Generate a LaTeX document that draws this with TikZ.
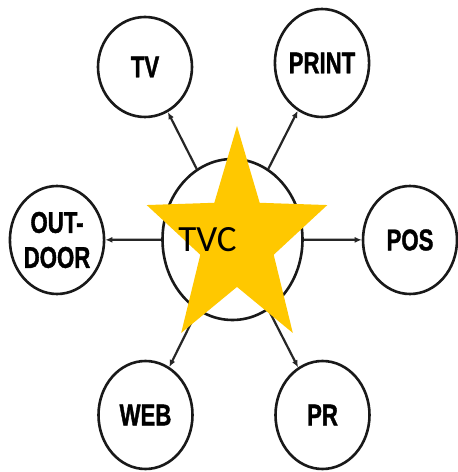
\documentclass[tikz,border=0pt]{standalone}
\usepackage{fontspec}
\setmainfont{Liberation Sans}
\newfontfamily\condbold[FakeStretch=0.74,FakeBold=1.2]{Liberation Sans Bold}
\newfontfamily\tvcfont{Carlito}
\usetikzlibrary{arrows.meta,shapes.geometric}
\begin{document}
\begin{tikzpicture}[x=1pt,y=1pt,
  media/.style={ellipse,draw=black!90,line width=2.6pt,inner sep=0pt,
    minimum width=94pt,minimum height=108pt,
    font=\condbold\fontsize{30}{35}\selectfont,align=center},
  link/.style={draw=black!85,line width=2.2pt,-{Latex[length=7pt,width=6pt]}}]
\useasboundingbox (0,0) rectangle (458,472);
\fill[white] (0,0) rectangle (458,472);
\node[ellipse,draw=black!90,line width=2.6pt,minimum width=140pt,minimum height=161pt] (hub) at (232.5,232.5) {};
\node[media,minimum height=100pt] (tv) at (145,405) {TV};
\node[media] (print) at (322,409) {PRINT};
\node[media] (out) at (57,232) {OUT-\\DOOR};
\node[media] (pos) at (410,232) {POS};
\node[media] (web) at (145.5,57) {WEB};
\node[media] (pr) at (322.5,57) {PR};
\draw[link] (hub) -- (tv);
\draw[link] (hub) -- (print);
\draw[link] (hub) -- (out);
\draw[link] (hub) -- (pos);
\draw[link] (hub) -- (web);
\draw[link] (hub) -- (pr);
\begin{scope}[shift={(237,231.6)},xscale=0.83]
\fill[fill={rgb,255:red,255;green,200;blue,0}]
  (90:114.4) -- (126:46.5) -- (162:114.4) -- (198:46.5) -- (234:114.4)
  -- (270:46.5) -- (306:114.4) -- (342:46.5) -- (18:114.4) -- (54:46.5) -- cycle;
\end{scope}
\node[font=\tvcfont\fontsize{37}{40}\selectfont,inner sep=0pt] (tvc) at (207.5,232) {TVC};
\end{tikzpicture}
\end{document}
